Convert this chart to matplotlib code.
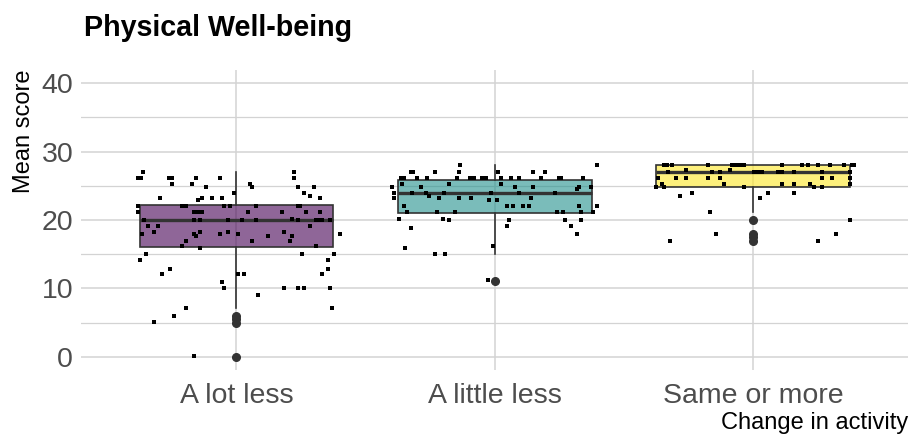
import matplotlib.pyplot as plt
from matplotlib.ticker import MultipleLocator

plt.rcParams['font.family'] = ['Liberation Sans', 'DejaVu Sans']

groups = ['A lot less', 'A little less', 'Same or more']
fills = ['#440154', '#21908C', '#FDE725']

# box summaries per group
whislo = [7.2, 15.0, 21.2]
q1 = [16.0, 21.0, 24.9]
med = [20.0, 24.0, 27.0]
q3 = [22.2, 25.9, 28.1]
whishi = [27.0, 28.1, 28.1]
outliers = [[6.0, 5.5, 4.9, 0.0], [11.1], [20.0, 18.0, 17.5, 17.0]]

# jittered individual scores: horizontal jitter (category units) and score
lot_dx = [-0.361, -0.382, -0.369, -0.262, -0.251, -0.157, -0.064, -0.251, -0.173, -0.119,
          0.222, 0.222, 0.237, 0.299, 0.052, 0.061, 0.260, 0.284, 0.322, -0.010,
          -0.297, -0.150, -0.134, -0.095, -0.057, -0.382, -0.382, -0.211, -0.196, -0.049,
          -0.026, 0.075, 0.237, 0.245, -0.165, -0.150, -0.134, 0.044, 0.175, 0.268,
          0.322, -0.358, -0.165, -0.142, -0.034, 0.021, 0.075, 0.214, 0.237, 0.307,
          0.322, 0.330, 0.361, -0.343, -0.304, 0.284, -0.366, -0.320, -0.165, -0.157,
          -0.142, -0.064, -0.034, 0.005, 0.183, 0.214, 0.206, 0.121, 0.059, -0.196,
          -0.211, -0.142, 0.307, 0.400, -0.351, -0.374, 0.253, 0.377, 0.353, 0.353,
          -0.258, -0.289, 0.005, 0.028, 0.330, -0.057, -0.049, 0.083, 0.183, 0.237,
          0.260, 0.361, -0.196, -0.242, -0.320, 0.369, -0.165]
lot_y = [27.0, 26.1, 26.1, 26.1, 26.1, 26.1, 26.1, 25.2, 25.2, 24.9,
         27.0, 26.1, 24.9, 24.9, 25.2, 24.9, 24.0, 23.5, 23.2, 24.0,
         23.2, 22.9, 23.2, 23.2, 23.2, 22.0, 21.1, 22.0, 22.0, 22.0,
         22.0, 22.0, 22.0, 22.0, 21.1, 21.1, 21.1, 21.1, 21.1, 21.1,
         21.1, 20.0, 20.0, 20.0, 20.0, 20.0, 20.0, 20.2, 20.0, 20.0,
         20.0, 20.0, 20.0, 19.1, 19.1, 19.1, 17.9, 18.2, 17.9, 17.6,
         18.2, 17.9, 18.2, 17.9, 18.2, 17.6, 17.0, 17.6, 17.0, 17.0,
         16.2, 15.9, 16.2, 17.9, 15.0, 14.1, 15.0, 15.0, 14.1, 12.9,
         12.9, 12.1, 12.1, 12.1, 12.1, 10.9, 10.0, 9.1, 10.0, 10.0,
         10.0, 10.0, 7.1, 5.9, 5.1, 7.1, 0.1]

little_dx = [-0.134, 0.395, -0.325, -0.317, -0.232, -0.139, 0.013, 0.147, 0.193, -0.364,
             -0.353, -0.302, -0.263, -0.147, -0.095, -0.080, -0.049, -0.041, -0.034, 0.023,
             0.062, 0.093, 0.178, 0.248, 0.255, 0.340, -0.397, -0.361, -0.286, -0.178,
             0.023, 0.077, 0.147, 0.317, 0.325, 0.371, -0.389, -0.320, -0.266, -0.196,
             -0.015, 0.093, 0.232, -0.389, -0.255, -0.217, -0.139, -0.093, -0.023, 0.008,
             0.139, -0.351, 0.046, 0.070, 0.108, 0.132, 0.325, 0.395, -0.340, -0.224,
             -0.155, 0.240, 0.263, 0.333, 0.379, -0.371, -0.201, -0.178, 0.054, 0.271,
             0.333, -0.325, 0.046, 0.294, 0.317, -0.348, -0.008, -0.232, -0.193, -0.026]
little_y = [28.1, 28.1, 27.0, 27.0, 27.0, 27.0, 27.0, 27.0, 27.0, 26.1,
            26.1, 26.1, 26.1, 26.1, 26.1, 26.1, 26.1, 26.1, 26.1, 26.1,
            26.1, 26.1, 26.1, 26.1, 26.1, 26.1, 24.9, 25.2, 24.9, 25.2,
            25.2, 24.9, 24.9, 24.6, 24.9, 24.9, 24.0, 24.0, 24.0, 24.0,
            24.0, 24.0, 24.0, 23.2, 23.5, 23.2, 23.2, 23.2, 22.9, 22.9,
            23.2, 22.0, 22.0, 22.0, 22.0, 22.0, 22.0, 22.0, 21.2, 21.2,
            21.2, 21.2, 21.2, 21.2, 21.2, 20.2, 20.2, 20.0, 20.0, 20.0,
            20.0, 18.8, 19.1, 19.1, 17.9, 15.9, 16.2, 15.0, 15.0, 11.2]

same_dx = [-0.346, -0.335, -0.315, -0.175, -0.083, -0.075, -0.067, -0.059, -0.052, -0.044,
           -0.036, 0.111, 0.188, 0.211, 0.250, 0.297, 0.351, 0.382, 0.389, -0.260,
           -0.090, -0.330, -0.160, -0.129, 0.003, 0.010, 0.026, 0.034, 0.095, 0.111,
           0.157, 0.266, 0.374, -0.369, -0.299, -0.260, -0.175, -0.129, 0.266, 0.304,
           0.374, -0.113, 0.111, 0.157, 0.219, 0.374, -0.353, -0.377, -0.346, -0.036,
           0.235, 0.266, -0.237, 0.057, 0.157, -0.284, 0.026, -0.168, 0.374, -0.144,
           0.320, -0.322, 0.250]
same_y = [28.1, 28.1, 28.1, 28.1, 28.1, 28.1, 28.1, 28.1, 28.1, 28.1,
          28.1, 28.1, 28.1, 28.1, 28.1, 28.1, 28.1, 28.1, 28.1, 27.3,
          27.3, 27.0, 27.0, 27.0, 27.0, 27.0, 27.0, 27.0, 27.0, 27.0,
          27.0, 27.0, 27.0, 26.1, 26.1, 26.1, 26.1, 26.1, 26.1, 26.1,
          26.1, 25.2, 25.2, 25.2, 25.2, 25.2, 25.2, 24.9, 24.9, 24.9,
          24.9, 24.9, 24.0, 24.0, 24.0, 23.5, 23.2, 21.1, 20.0, 17.9,
          17.9, 17.0, 17.0]

jitter_dx = [lot_dx, little_dx, same_dx]
jitter_y = [lot_y, little_y, same_y]

W, H = 912, 443
fig = plt.figure(figsize=(W / 100, H / 100), dpi=100)
ax = fig.add_axes([81.5 / W, 1 - 370.4 / H, (908 - 81.5) / W, (370.4 - 69.6) / H])

grid = '#D3D3D3'
ax.set_xlim(0.4, 3.6)
ax.set_ylim(-2, 42)
ax.yaxis.set_major_locator(MultipleLocator(10))
ax.yaxis.set_minor_locator(MultipleLocator(5))
ax.grid(True, which='major', color=grid, lw=1.1, zorder=0)
ax.grid(True, which='minor', axis='y', color=grid, lw=0.9, zorder=0)
ax.set_axisbelow(True)
for s in ax.spines.values():
    s.set_visible(False)

positions = [1, 2, 3]
stats = []
for i in range(3):
    stats.append(dict(med=med[i], q1=q1[i], q3=q3[i], whislo=whislo[i],
                      whishi=whishi[i], fliers=outliers[i]))

edge = '#333333'
bp = ax.bxp(stats, positions=positions, widths=0.75, patch_artist=True, showcaps=False,
            boxprops=dict(edgecolor=edge, linewidth=1.2),
            medianprops=dict(color=edge, linewidth=2.4),
            whiskerprops=dict(color=edge, linewidth=1.2),
            flierprops=dict(marker='o', markerfacecolor=edge, markeredgecolor=edge,
                            markersize=5.5))
for patch, c in zip(bp['boxes'], fills):
    patch.set_facecolor(c)
    fc = list(patch.get_facecolor())
    fc[3] = 0.6
    patch.set_facecolor(fc)

for pos, dx, ys in zip(positions, jitter_dx, jitter_y):
    xs = [pos + d for d in dx]
    ax.scatter(xs, ys, marker='s', s=5.5, color='black', linewidths=0, zorder=4)

ax.set_xticks(positions)
ax.set_xticklabels(groups)
ax.set_yticks([0, 10, 20, 30, 40])
ax.tick_params(axis='both', which='both', length=0, labelsize=20.5, labelcolor='#4D4D4D')
ax.tick_params(axis='x', pad=9)
ax.tick_params(axis='y', pad=6)

ax.set_xlabel('Change in activity', fontsize=17, color='black', loc='right')
ax.xaxis.set_label_coords(1.0, -0.137)
ax.set_ylabel('Mean score', fontsize=17, color='black', loc='top')
ax.yaxis.set_label_coords(-0.0557, 1.0)

fig.text(84 / W, 1 - 36 / H, 'Physical Well-being', fontsize=20.6, fontweight='bold',
         ha='left', va='baseline')

fig.savefig('out.png', dpi=100)
